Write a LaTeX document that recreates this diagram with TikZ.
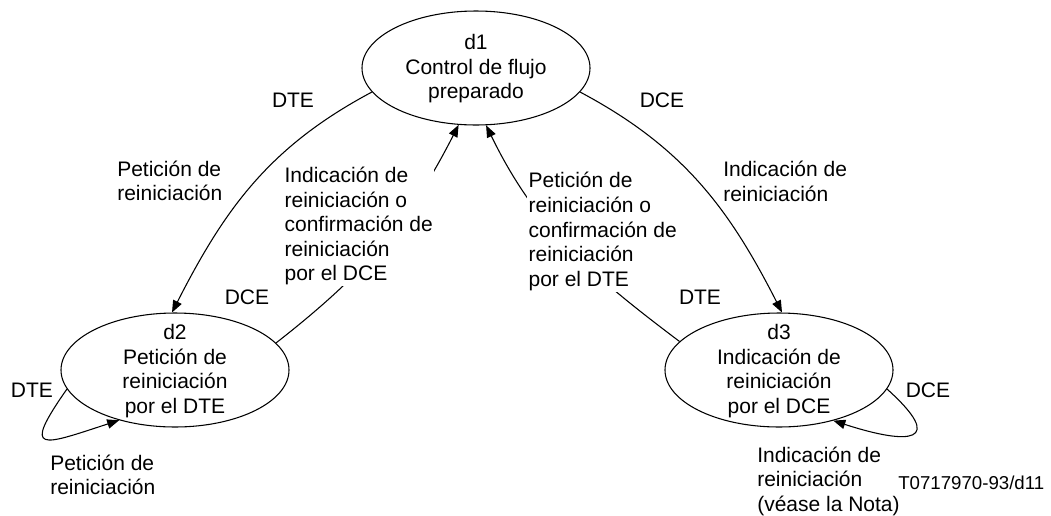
\documentclass[tikz,border=0pt]{standalone}
\usepackage{fontspec}
\setmainfont{Liberation Sans}
\usetikzlibrary{shapes.geometric,arrows.meta}
\begin{document}
\begin{tikzpicture}[x=0.75pt,y=-0.75pt,
  every node/.style={font=\fontsize{15.75pt}{18.4pt}\selectfont},
  state/.style={draw, ellipse, line width=0.8pt, minimum width=171pt, minimum height=85.5pt, inner sep=0pt},
  stext/.style={align=center, inner sep=0pt},
  lbl/.style={align=left, anchor=west, inner sep=0pt},
  wlbl/.style={align=left, anchor=west, inner sep=1pt, fill=white},
  conn/.style={line width=0.8pt, -{Triangle[length=9pt,width=7pt]}},
]
\useasboundingbox (0,0) rectangle (1051,515);

\node[state] (d1) at (476,68) {};
\node[state] (d2) at (175,370) {};
\node[state] (d3) at (779,370) {};
\node[stext] (t1) at (476,69) {d1\\Control de flujo\\preparado};
\node[stext] (t2) at (175,371) {d2\\Petición de\\reiniciación\\por el DTE};
\node[stext] (t3) at (779,371) {d3\\Indicación de\\reiniciación\\por el DCE};

\draw[conn] (d1.193) to[out=208,in=63] (d2.93);
\draw[conn] (d2.15) to[out=38,in=243] (d1.253);
\draw[conn] (d3.164) to[out=143,in=296] (d1.280);
\draw[conn] (d1.347) to[out=332,in=117] (d3.87);
\draw[conn] (d2.190) to[out=235,in=198,looseness=3.4] (d2.222);
\draw[conn] (d3.350) to[out=318,in=342,looseness=3.3] (d3.317);

\node (l1) at (293,100) {DTE};
\node[lbl] (l2) at (117,181) {Petición de\\reiniciación};
\node[wlbl] (l3) at (283,226) {Indicación de\\reiniciación o\\confirmación de\\reiniciación\\por el DCE};
\node (l4) at (247,297) {DCE};
\node (l5) at (32,390) {DTE};
\node[lbl] (l6) at (50,475) {Petición de\\reiniciación};
\node (l7) at (662,100) {DCE};
\node[lbl] (l8) at (723,181.5) {Indicación de\\reiniciación};
\node[wlbl] (l9) at (527,231.5) {Petición de\\reiniciación o\\confirmación de\\reiniciación\\por el DTE};
\node (l10) at (700,297) {DTE};
\node (l11) at (928,390) {DCE};
\node[lbl] (l12) at (757,481) {Indicación de\\reiniciación\\(véase la Nota)};
\node[lbl, font=\fontsize{14pt}{16pt}\selectfont] (l13) at (898,483) {T0717970-93/d11};
\end{tikzpicture}
\end{document}
